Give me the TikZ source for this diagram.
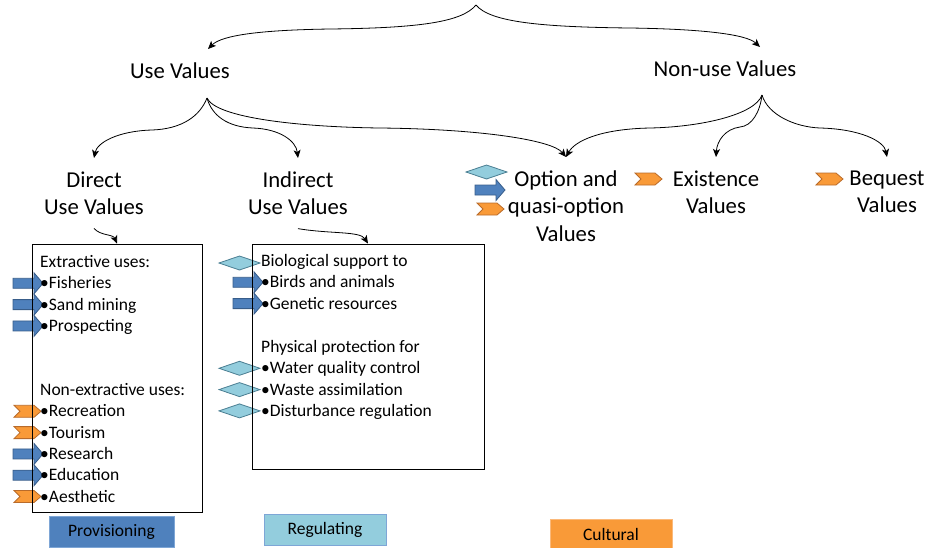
\documentclass[tikz,border=0pt]{standalone}
\usepackage{fontspec}
\setmainfont{Carlito}
\usetikzlibrary{arrows.meta}

\definecolor{provblue}{HTML}{4F81BD}
\definecolor{provedge}{HTML}{385D8A}
\definecolor{provlight}{HTML}{7EA6D6}
\definecolor{regblue}{HTML}{93CDDD}
\definecolor{regedge}{HTML}{4A7E92}
\definecolor{cultorange}{HTML}{F99A38}
\definecolor{cultedge}{HTML}{B96B2A}
\definecolor{cultlight}{HTML}{FBB97A}

\newcommand{\valfont}{\fontsize{22.7}{27.7}\selectfont}
\newcommand{\listfont}{\fontsize{17.5}{21.3}\selectfont}

\tikzset{
  provarrow/.pic={\draw[line width=0.8pt, draw=provedge, fill=provblue]
    (-30,5) -- (-9,5) -- (-9,10.5) -- (0,0) -- (-9,-10.5) -- (-9,-5) -- (-30,-5) -- cycle;},
  cultchevron/.pic={\draw[line width=0.8pt, draw=cultedge, fill=cultorange]
    (-27,6) -- (-7,6) -- (0,0) -- (-7,-6) -- (-27,-6) -- (-21,0) -- cycle;},
  regdiamond/.pic={\draw[line width=0.8pt, draw=regedge, fill=regblue]
    (-41,0) -- (-20.5,7) -- (0,0) -- (-20.5,-7) -- cycle;},
}

\begin{document}
\begin{tikzpicture}[x=1pt, y=1pt,
    valname/.style={align=center, inner xsep=0pt, inner ysep=13.3pt, font=\valfont},
    link/.style={-{Stealth[length=8pt,width=7pt,inset=2pt]}, line width=0.8pt},
    listline/.style={anchor=base west, inner sep=0pt, font=\listfont},
    valbox/.style={draw, line width=0.9pt, inner sep=0pt},
    legend/.style={minimum height=31pt, inner sep=0pt, line width=1pt, font=\listfont}]
  \useasboundingbox (0,0) rectangle (930,-547);

  % value categories
  \coordinate (tev) at (476,-5);
  \node[valname, anchor=north] (use) at (180,-49) {Use Values};
  \node[valname, anchor=north] (nonuse) at (725,-47) {Non-use Values};
  \coordinate (usefork) at (207,-98);
  \coordinate (nonusefork) at (762,-95);

  \node[valname, anchor=north] (direct) at (94,-158) {Direct\\Use Values};
  \node[valname, anchor=north] (indirect) at (298,-158) {Indirect\\Use Values};
  \node[valname, anchor=north] (option) at (566,-157) {Option and\\quasi-option\\Values};
  \node[valname, anchor=north] (existence) at (716,-157) {Existence\\Values};
  \node[valname, anchor=north] (bequest) at (887,-157) {Bequest\\Values};

  % top brace
  \draw[link] (tev) .. controls (462,-22) and (420,-28) .. (330,-29)
    .. controls (262,-30) and (222,-35) .. ([xshift=28pt]use.north);
  \draw[link] (tev) .. controls (490,-22) and (540,-27) .. (630,-28)
    .. controls (700,-29) and (746,-34) .. ([xshift=35pt]nonuse.north);

  % use values brace
  \draw[link] (usefork) .. controls (200,-116) and (182,-129) .. (152,-130)
    .. controls (117,-131) and (97,-143) .. (direct.north);
  \draw[link] (usefork) .. controls (212,-116) and (228,-127) .. (253,-128)
    .. controls (280,-129) and (296,-141) .. (indirect.north);
  \draw[link] (usefork) .. controls (216,-118) and (300,-127) .. (380,-128)
    .. controls (480,-129) and (552,-140) .. (option.north);

  % non-use values brace
  \draw[link] (nonusefork) .. controls (755,-115) and (700,-127) .. (650,-128)
    .. controls (600,-129) and (575,-141) .. (option.north);
  \draw[link] (nonusefork) .. controls (760,-112) and (752,-126) .. (740,-127)
    .. controls (725,-129) and (717,-141) .. (existence.north);
  \draw[link] (nonusefork) .. controls (768,-115) and (795,-127) .. (820,-128)
    .. controls (860,-129) and (884,-141) .. (bequest.north);

  % service icons
  \foreach \i in {1,2,3} \pic at (43,-262-21.3*\i) {provarrow};
  \foreach \i in {3,4} \pic at (43,-390-21.3*\i) {provarrow};
  \foreach \i in {1,2,5} \pic at (41,-390-21.3*\i) {cultchevron};
  \pic at (260,-263) {regdiamond};
  \foreach \i in {1,2} \pic at (263,-261-21.3*\i) {provarrow};
  \foreach \i in {1,2,3} \pic at (260,-347-21.3*\i) {regdiamond};
  \pic at (507,-172) {regdiamond};
  \pic at (505,-190) {provarrow};
  \pic at (504,-209) {cultchevron};
  \pic at (662,-179) {cultchevron};
  \pic at (843,-179) {cultchevron};

  % direct use box
  \node[valbox, minimum width=170pt, minimum height=268pt] (directbox) at (117,-378) {};
  \draw[link] (direct.south) .. controls (101,-236) and (113,-234) .. (directbox.north);
  \node[listline] (ext) at (40,-267.5) {Extractive uses:};
  \foreach \name [count=\i] in {Fisheries, Sand mining, Prospecting}
    \node[listline] (ext\i) at (40,-267.5-21.3*\i) {•\name};
  \node[listline] (nonext) at (40,-395.5) {Non-extractive uses:};
  \foreach \name [count=\i] in {Recreation, Tourism, Research, Education, Aesthetic}
    \node[listline] (nonext\i) at (40,-395.5-21.3*\i) {•\name};

  % indirect use box
  \node[valbox, minimum width=232pt, minimum height=225pt] (indirectbox) at (368,-356.5) {};
  \draw[link] (indirect.south) .. controls (330,-234) and (360,-231) .. (indirectbox.north);
  \node[listline] (bio) at (261,-266.5) {Biological support to};
  \foreach \name [count=\i] in {Birds and animals, Genetic resources}
    \node[listline] (bio\i) at (261,-266.5-21.3*\i) {•\name};
  \node[listline] (phys) at (261,-352.5) {Physical protection for};
  \foreach \name [count=\i] in {Water quality control, Waste assimilation, Disturbance regulation}
    \node[listline] (phys\i) at (261,-352.5-21.3*\i) {•\name};

  % legend
  \node[legend, fill=provblue, draw=provlight, minimum width=125pt] (prov) at (111.5,-532) {Provisioning};
  \node[legend, fill=regblue, draw=provlight, minimum width=122pt] (reg) at (325,-530) {Regulating};
  \node[legend, fill=cultorange, draw=cultlight, minimum width=122pt] (cult) at (611,-534.5) {Cultural};
\end{tikzpicture}
\end{document}
